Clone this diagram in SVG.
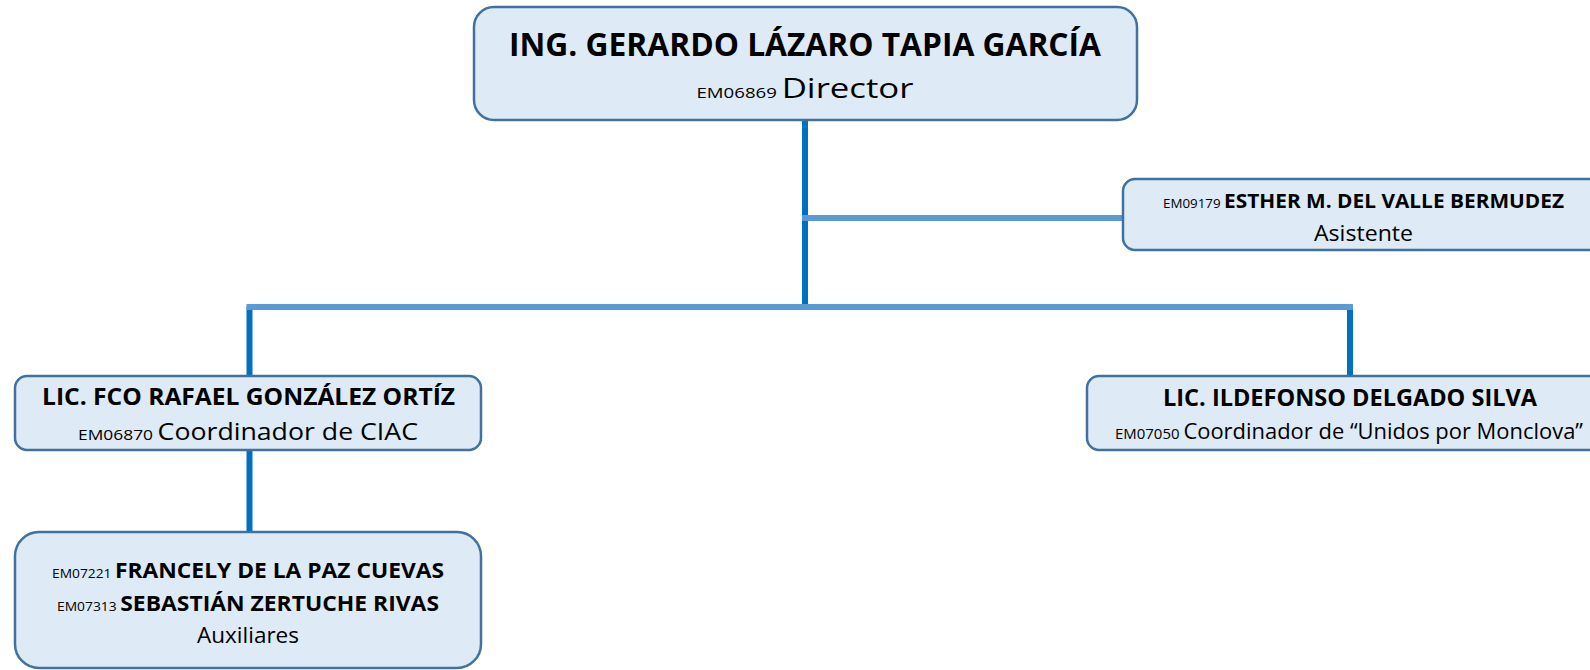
<svg xmlns="http://www.w3.org/2000/svg" width="1590" height="670" viewBox="0 0 1590 670">
<style>
.box{fill:#DEEAF6;stroke:#41719C;stroke-width:2.5}
.dark{stroke:#0070C0;stroke-width:6;fill:none}
.light{stroke:#5B9BD5;stroke-width:6;fill:none}
text{font-family:"Open Sans","Liberation Sans",sans-serif;fill:#000;text-anchor:middle}
.b{font-weight:bold}
</style>
<rect width="1590" height="670" fill="#fff"/>
<g id="connectors">
<line class="dark" x1="805" y1="120" x2="805" y2="307"/>
<line class="dark" x1="249.5" y1="307" x2="249.5" y2="377"/>
<line class="dark" x1="1350" y1="307" x2="1350" y2="377"/>
<line class="dark" x1="249.5" y1="450" x2="249.5" y2="533"/>
<line class="light" x1="802" y1="218" x2="1124" y2="218"/>
<line class="light" x1="246.5" y1="307" x2="1353" y2="307"/>
</g>
<g id="director">
<rect class="box" x="474" y="7" width="663" height="113" rx="20"/>
<text x="805" y="56" class="b" font-size="32" textLength="592" lengthAdjust="spacingAndGlyphs">ING. GERARDO LÁZARO TAPIA GARCÍA</text>
<text x="805" y="98" textLength="217" lengthAdjust="spacingAndGlyphs"><tspan font-size="15">EM06869 </tspan><tspan font-size="28">Director</tspan></text>
</g>
<g id="asistente">
<rect class="box" x="1123" y="179" width="490" height="71" rx="12"/>
<text x="1363.5" y="208" textLength="401" lengthAdjust="spacingAndGlyphs"><tspan font-size="12.5">EM09179 </tspan><tspan class="b" font-size="19.5">ESTHER M. DEL VALLE BERMUDEZ</tspan></text>
<text x="1363.5" y="241" font-size="22" textLength="99" lengthAdjust="spacingAndGlyphs">Asistente</text>
</g>
<g id="coord-ciac">
<rect class="box" x="15" y="376" width="466" height="74" rx="12"/>
<text x="248.5" y="405" class="b" font-size="24" textLength="413" lengthAdjust="spacingAndGlyphs">LIC. FCO RAFAEL GONZÁLEZ ORTÍZ</text>
<text x="248" y="440" textLength="340" lengthAdjust="spacingAndGlyphs"><tspan font-size="15">EM06870 </tspan><tspan font-size="23">Coordinador de CIAC</tspan></text>
</g>
<g id="coord-unidos">
<rect class="box" x="1087" y="376" width="530" height="74" rx="12"/>
<text x="1350" y="406" class="b" font-size="24" textLength="374" lengthAdjust="spacingAndGlyphs">LIC. ILDEFONSO DELGADO SILVA</text>
<text x="1349" y="439" textLength="468" lengthAdjust="spacingAndGlyphs"><tspan font-size="15">EM07050 </tspan><tspan font-size="22">Coordinador de “Unidos por Monclova”</tspan></text>
</g>
<g id="auxiliares">
<rect class="box" x="15" y="532" width="466" height="136" rx="24"/>
<text x="248" y="578" textLength="392" lengthAdjust="spacingAndGlyphs"><tspan font-size="13">EM07221 </tspan><tspan class="b" font-size="21.5">FRANCELY DE LA PAZ CUEVAS</tspan></text>
<text x="248" y="611" textLength="382" lengthAdjust="spacingAndGlyphs"><tspan font-size="13">EM07313 </tspan><tspan class="b" font-size="21.5">SEBASTIÁN ZERTUCHE RIVAS</tspan></text>
<text x="248" y="643" font-size="22" textLength="102" lengthAdjust="spacingAndGlyphs">Auxiliares</text>
</g>
</svg>
